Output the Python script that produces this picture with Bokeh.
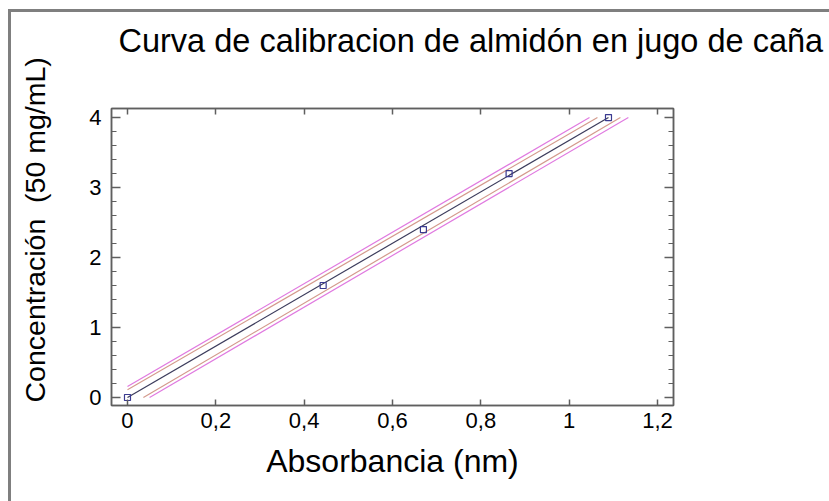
from bokeh.plotting import figure
from bokeh.models import (LinearAxis, SingleIntervalTicker, CustomJSTickFormatter,
                          Title, Range1d)
from bokeh.embed import file_html
from bokeh.resources import INLINE

# data points (absorbance vs concentration)
absorbancia = [0.0, 0.443, 0.670, 0.864, 1.089]
concentracion = [0.0, 1.6, 2.4, 3.2, 4.0]

# fitted line and limits
fit_x = [0.0, 1.089]
fit_y = [0.0, 4.0]
conf_up_x = [0.0, 1.064]
conf_up_y = [0.11, 4.0]
conf_lo_x = [0.036, 1.116]
conf_lo_y = [0.0, 4.0]
pred_up_x = [0.0, 1.046]
pred_up_y = [0.157, 4.0]
pred_lo_x = [0.05, 1.134]
pred_lo_y = [0.0, 4.0]

title_text = "Curva de calibracion de almidón en jugo de caña"
x_label = "Absorbancia (nm)"
y_label = "Concentración\u00a0\u00a0(50 mg/mL)"

FONT = "Liberation Sans"
AXC = "#5f5f5f"

p = figure(width=829, height=501, output_backend="svg", toolbar_location=None,
           x_range=Range1d(-0.0362, 1.2362), y_range=Range1d(-0.114, 4.129),
           min_border_left=111, min_border_right=156, min_border_top=108,
           min_border_bottom=96, x_axis_location=None, y_axis_location=None)
# outer gray frame (left and top edges) drawn behind a transparent canvas
p.border_fill_alpha = 0
p.styles = {
    "background": ("linear-gradient(#7f7f7f, #7f7f7f) 8px 9px / 3px 492px no-repeat, "
                   "linear-gradient(#7f7f7f, #7f7f7f) 8px 9px / 821px 3px no-repeat, "
                   "#ffffff"),
}
p.grid.visible = False
p.outline_line_color = AXC
p.outline_line_width = 1.5

fmt = CustomJSTickFormatter(code="var s = (Math.round(tick*10)/10).toString(); return s.replace('.', ',');")
blank = CustomJSTickFormatter(code="return '';")

def style_axis(ax, labels, minor):
    ax.axis_line_color = AXC
    ax.axis_line_width = 1.5
    ax.major_tick_line_color = AXC
    ax.major_tick_line_width = 1.5
    ax.minor_tick_line_color = AXC if minor else None
    ax.minor_tick_line_width = 1.2
    ax.major_tick_in = 9 if minor else 6
    ax.major_tick_out = 0
    ax.minor_tick_in = 5
    ax.minor_tick_out = 0
    ax.major_label_text_font = FONT
    ax.major_label_text_color = "black"
    if labels:
        ax.formatter = fmt
        ax.major_label_text_font_size = "22px"
        ax.major_label_standoff = 7
    else:
        ax.formatter = blank
        ax.major_label_text_font_size = "1px"
        ax.major_label_standoff = 0

xb = LinearAxis(ticker=SingleIntervalTicker(interval=0.2, num_minor_ticks=0))
xt = LinearAxis(ticker=SingleIntervalTicker(interval=0.2, num_minor_ticks=0))
yl = LinearAxis(ticker=SingleIntervalTicker(interval=1, num_minor_ticks=5))
yr = LinearAxis(ticker=SingleIntervalTicker(interval=1, num_minor_ticks=5))
style_axis(xb, True, False)
style_axis(xt, False, False)
style_axis(yl, True, True)
style_axis(yr, False, True)
yl.major_label_standoff = 10
xb.axis_label = x_label
xb.axis_label_text_font = FONT
xb.axis_label_text_font_size = "32px"
xb.axis_label_text_font_style = "normal"
xb.axis_label_text_color = "black"
xb.axis_label_standoff = 12
p.add_layout(xb, "below")
p.add_layout(xt, "above")
p.add_layout(yl, "left")
p.add_layout(yr, "right")

# spacers (invisible) and titles
top_spacer = Title(text="\u00a0", text_font_size="1px", standoff=47)
p.add_layout(top_spacer, "above")
main_title = Title(text=title_text, align="left", offset=7, text_font=FONT,
                   text_font_size="32.5px", text_font_style="normal",
                   text_color="black", standoff=0)
p.add_layout(main_title, "above")

left_spacer = Title(text="\u00a0", text_font_size="1px", standoff=33)
p.add_layout(left_spacer, "left")
yt = Title(text=y_label, align="left", offset=3, text_font=FONT, text_color="black",
           text_font_size="28.5px", text_font_style="normal", standoff=0)
p.add_layout(yt, "left")

# lines
p.line(pred_up_x, pred_up_y, line_color="#e07ae0", line_width=1.2)
p.line(pred_lo_x, pred_lo_y, line_color="#e07ae0", line_width=1.2)
p.line(conf_up_x, conf_up_y, line_color="#d39a8c", line_width=1.2)
p.line(conf_lo_x, conf_lo_y, line_color="#d39a8c", line_width=1.2)
p.line(fit_x, fit_y, line_color="#3c3c5c", line_width=1.2)
p.scatter(absorbancia, concentracion, marker="square", size=6, fill_color=None,
          line_color="#3a3a90", line_width=1.2)

open("out.html", "w").write(file_html(p, INLINE))
